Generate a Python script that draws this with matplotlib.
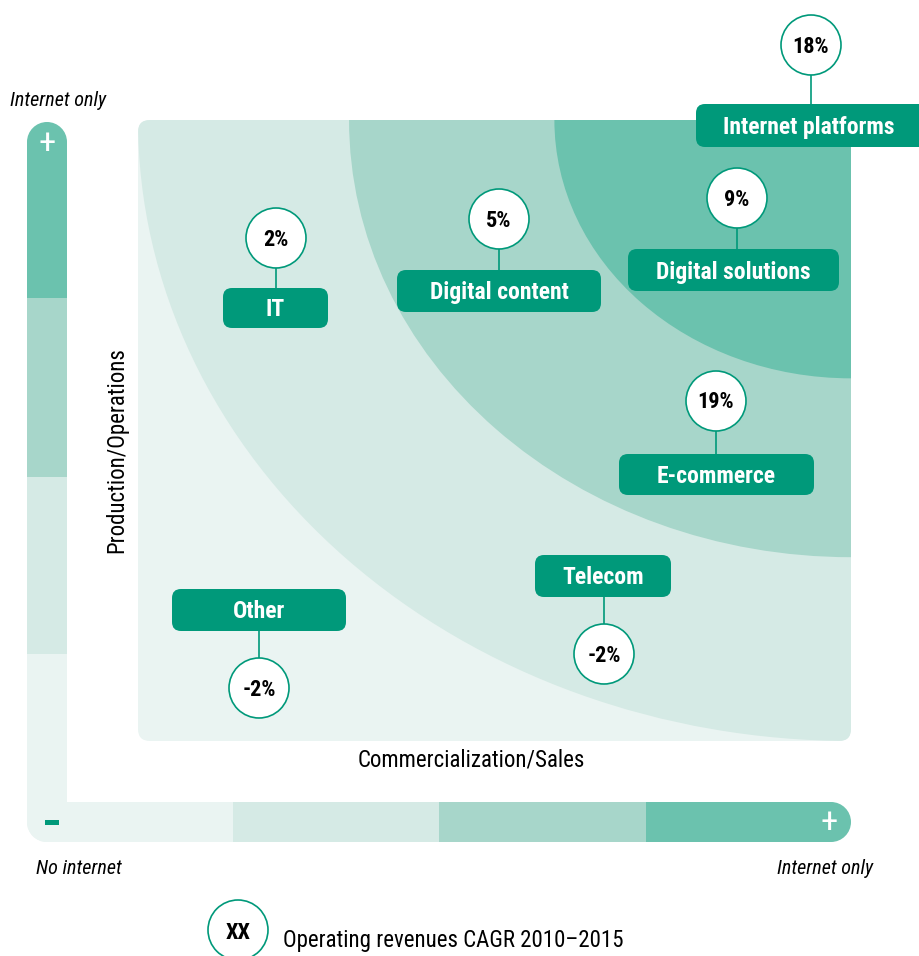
import matplotlib
matplotlib.use("Agg")
import matplotlib.pyplot as plt
from matplotlib.patches import FancyBboxPatch, Ellipse, Circle, Rectangle, PathPatch
from matplotlib.path import Path
import numpy as np

# ---------------- data ----------------
segments = ["Internet platforms", "Digital solutions", "Digital content", "IT",
            "E-commerce", "Telecom", "Other"]
cagr = ["18%", "9%", "5%", "2%", "19%", "-2%", "-2%"]
x_label = "Commercialization/Sales"
y_label = "Production/Operations"
legend_text = "Operating revenues CAGR 2010\u20132015"

# ---------------- layout (pixel coords) ----------------
# box: (x0, x1, y0, y1); circle: (cx, cy)
boxes = [(696, 935, 104, 147), (628, 839, 249, 291), (397, 601, 270, 312),
         (223, 328, 288, 328), (619, 814, 454, 495), (535, 671, 555, 597),
         (172, 346, 589, 631)]
circles = [(811, 45), (737, 198), (499, 219), (276, 238), (716, 401),
           (604, 654), (259, 688)]

plt.rcParams['font.family'] = ['Roboto Condensed', 'Liberation Sans Narrow', 'Roboto', 'DejaVu Sans']

C_DARK = "#6BC2AE"
C_MID = "#A7D6CA"
C_LIGHT = "#D5EAE5"
C_LIGHTEST = "#EAF4F2"
C_GREEN = "#00997A"

fig = plt.figure(figsize=(9.2, 9.56), dpi=100)
ax = fig.add_axes([0, 0, 1, 1])
ax.set_xlim(0, 920)
ax.set_ylim(956, 0)
ax.axis("off")

# ---- main panel ----
X0, X1, Y0, Y1 = 138, 851, 120, 741
W, H = X1 - X0, Y1 - Y0
panel = FancyBboxPatch((X0, Y0), W, H, boxstyle="round,pad=0,rounding_size=12",
                       fc=C_LIGHTEST, ec="none", zorder=1)
ax.add_patch(panel)
for f, col in [(1.0, C_LIGHT), (0.704, C_MID), (0.416, C_DARK)]:
    e = Ellipse((X1, Y0), 2 * f * W, 2 * f * H, fc=col, ec="none", zorder=2)
    ax.add_patch(e)
    e.set_clip_path(panel)


# ---- L-shaped scale bar ----
def rounded_poly(pts, radii):
    k = 0.5523
    n = len(pts)
    verts, codes = [], []
    for i in range(n):
        v = np.array(pts[i], float)
        prev = np.array(pts[i - 1], float)
        nxt = np.array(pts[(i + 1) % n], float)
        r = radii[i]
        din = (v - prev) / np.linalg.norm(v - prev)
        dout = (nxt - v) / np.linalg.norm(nxt - v)
        pin = v - r * din
        pout = v + r * dout
        if i == 0:
            verts.append(pin); codes.append(Path.MOVETO)
        else:
            verts.append(pin); codes.append(Path.LINETO)
        if r > 0:
            verts += [pin + k * r * din, pout - k * r * dout, pout]
            codes += [Path.CURVE4] * 3
    verts.append(verts[0]); codes.append(Path.CLOSEPOLY)
    return Path(verts, codes)


lpath = rounded_poly([(27, 122), (67, 122), (67, 802), (851, 802), (851, 842), (27, 842)],
                     [20, 20, 0, 20, 20, 20])
lpatch = PathPatch(lpath, fc="none", ec="none")
ax.add_patch(lpatch)
bar_cols = [C_DARK, C_MID, C_LIGHT, C_LIGHTEST]
vbreaks = [122, 298, 477, 654, 842]
for i, col in enumerate(bar_cols):
    r = Rectangle((27, vbreaks[i]), 40, vbreaks[i + 1] - vbreaks[i], fc=col, ec="none", zorder=1)
    ax.add_patch(r); r.set_clip_path(lpatch)
hbreaks = [27, 233, 439, 646, 851]
for i, col in enumerate(bar_cols[::-1]):
    r = Rectangle((hbreaks[i], 802), hbreaks[i + 1] - hbreaks[i], 40, fc=col, ec="none", zorder=1)
    ax.add_patch(r); r.set_clip_path(lpatch)

ax.text(47, 143, "+", color="white", fontsize=25, ha="center", va="center", zorder=3)
ax.text(829, 822, "+", color="white", fontsize=25, ha="center", va="center", zorder=3)
ax.add_patch(Rectangle((45, 820), 14, 4.5, fc=C_GREEN, ec="none", zorder=3))

# ---- texts ----
ax.text(10, 100, "Internet only", fontsize=14.5, style="italic", ha="left", va="center")
ax.text(36, 868, "No internet", fontsize=14.5, style="italic", ha="left", va="center")
ax.text(873, 868, "Internet only", fontsize=14.5, style="italic", ha="right", va="center")
ax.text(117, 450, y_label, fontsize=16.5, rotation=90, ha="center", va="center")
ax.text(471, 760, x_label, fontsize=16.5, ha="center", va="center")

# ---- labels ----
for name, val, (bx0, bx1, by0, by1), (cx, cy) in zip(segments, cagr, boxes, circles):
    ax.add_patch(FancyBboxPatch((bx0, by0), bx1 - bx0, by1 - by0,
                                boxstyle="round,pad=0,rounding_size=9",
                                fc=C_GREEN, ec="none", zorder=4))
    tx = (bx0 + bx1) / 2 if bx1 <= 920 else (bx0 + 922) / 2
    ax.text(tx, (by0 + by1) / 2 + 2, name, color="white", fontsize=17, fontweight="bold",
            ha="center", va="center", zorder=6)
    # connector
    if cy < by0:
        ax.plot([cx, cx], [cy + 30, by0], color=C_GREEN, lw=1.2, zorder=3)
    else:
        ax.plot([cx, cx], [by1, cy - 30], color=C_GREEN, lw=1.2, zorder=3)
    ax.add_patch(Circle((cx, cy), 30, fc="white", ec=C_GREEN, lw=1.2, zorder=5))
    ax.text(cx, cy + 1.5, val, fontsize=16, fontweight="bold", ha="center", va="center", zorder=6)

# ---- legend ----
ax.add_patch(Circle((238, 930), 30, fc="white", ec=C_GREEN, lw=1.2, zorder=5))
ax.text(238, 933, "XX", fontsize=16, fontweight="bold", ha="center", va="center", zorder=6)
ax.text(283, 941, legend_text, fontsize=16.5, ha="left", va="center")

fig.savefig("out.png", dpi=100)
